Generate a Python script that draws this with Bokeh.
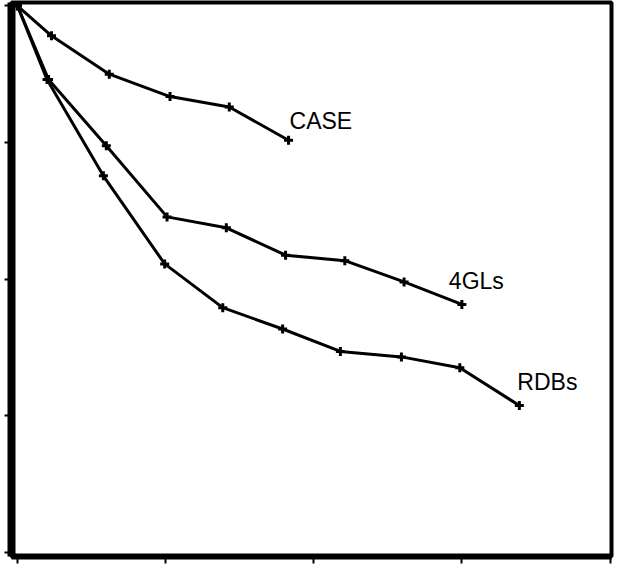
from bokeh.plotting import figure
from bokeh.models import Range1d, FixedTicker, ColumnDataSource, CustomJSTickFormatter
from bokeh.core.properties import value
from bokeh.embed import file_html
from bokeh.resources import INLINE

# ---- data ----
series_names = ["CASE", "4GLs", "RDBs"]
case_x = [0, 1.15, 3.1, 5.15, 7.15, 9.15]
case_y = [100, 94.5, 87.5, 83.4, 81.5, 75.4]
gl4_x = [0, 1.05, 3.0, 5.05, 7.05, 9.05, 11.05, 13.05, 15.0]
gl4_y = [100, 86.5, 74.4, 61.4, 59.4, 54.4, 53.4, 49.5, 45.4]
rdb_x = [0, 1.0, 2.9, 4.97, 6.93, 8.95, 10.9, 12.96, 14.93, 16.94]
rdb_y = [100, 86.5, 68.9, 52.8, 44.8, 40.9, 36.8, 35.8, 33.8, 26.9]
x_ticks = [0, 5, 10, 15, 20]
y_ticks = [0, 25, 50, 75, 100]

series = [(case_x, case_y), (gl4_x, gl4_y), (rdb_x, rdb_y)]
# label pixel offsets relative to each series' last point (style)
label_offsets = [(1, -19), (-13, -23), (-2, -24)]

p = figure(width=614, height=564, output_backend="svg", toolbar_location=None,
           x_range=Range1d(-0.2, 20.05), y_range=Range1d(-0.7, 100.6),
           min_border_left=11, min_border_right=3, min_border_top=2, min_border_bottom=8)
p.grid.visible = False
p.background_fill_color = "white"
p.border_fill_color = "white"
p.outline_line_color = "black"
p.outline_line_width = 4

for ax, ticks, lw in ((p.xaxis, x_ticks, 6), (p.yaxis, y_ticks, 8)):
    ax.ticker = FixedTicker(ticks=ticks)
    ax.formatter = CustomJSTickFormatter(code="return '';")
    ax.axis_line_color = "black"
    ax.axis_line_width = lw
    ax.major_tick_in = 0
    ax.major_tick_out = 7
    ax.major_tick_line_width = 2
    ax.major_tick_line_color = "black"
    ax.minor_tick_line_color = None
    ax.major_label_standoff = 0

for (xs, ys), name, (dx, dy) in zip(series, series_names, label_offsets):
    src = ColumnDataSource(dict(x=xs, y=ys))
    p.line("x", "y", source=src, line_color="black", line_width=3)
    p.scatter("x", "y", source=src, marker="cross", size=9, line_color="black", line_width=3)
    p.text(x=[xs[-1]], y=[ys[-1]], text=[name], x_offset=dx, y_offset=dy,
           text_font=value("Liberation Sans"), text_font_size="23px",
           text_color="black", text_align="left", text_baseline="alphabetic")

open("out.html", "w").write(file_html(p, INLINE))
